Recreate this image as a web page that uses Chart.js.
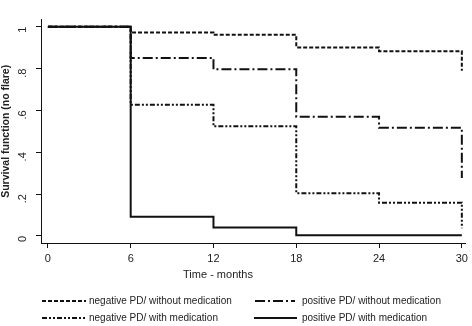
<!DOCTYPE html>
<html><head><meta charset="utf-8">
<script src="https://cdn.jsdelivr.net/npm/chart.js@4"></script>
<style>html,body{margin:0;padding:0;background:#fff}</style>
</head><body>
<canvas id="c" width="472" height="326" style="width:472px;height:326px;display:block"></canvas>
<script>
// ---- data ----
const months = [0, 6, 12, 18, 24, 30];
const negWithout = [1, 0.972, 0.961, 0.901, 0.883, 0.79];
const posWithout = [1, 0.851, 0.797, 0.569, 0.517, 0.277];
const negWith = [1, 0.627, 0.524, 0.204, 0.159, 0.037];
const posWith = [1, 0.092, 0.04, 0.003, 0.003, 0.003];
const seriesNames = [
  'negative PD/ without medication',
  'positive PD/ without medication',
  'negative PD/ with medication',
  'positive PD/ with medication'
];
const xTickValues = [0, 6, 12, 18, 24, 30];
const yTickValues = [0, 0.2, 0.4, 0.6, 0.8, 1];
const yTickLabels = ['0', '.2', '.4', '.6', '.8', '1'];
const xTitle = 'Time - months';
const yTitle = 'Survival function (no flare)';

// ---- styles ----
const FONT = '"Liberation Sans", Arial, sans-serif';
const dashes = [[4, 2], [10, 3, 2, 3], [5, 2, 2, 2, 2, 2], []];
const seriesValues = [negWithout, posWithout, negWith, posWith];

const pts = vals => months.map((m, i) => ({ x: m, y: vals[i] }));

const datasets = seriesValues.map((v, i) => ({
  label: seriesNames[i],
  data: pts(v),
  stepped: 'before',
  borderColor: '#111',
  borderWidth: 2,
  borderDash: dashes[i],
  pointRadius: 0,
  fill: false
})).reverse();

const legendPlugin = {
  id: 'customLegend',
  afterDraw(chart) {
    const ctx = chart.ctx;
    ctx.save();
    ctx.fillStyle = '#222';
    ctx.font = '11px ' + FONT;
    ctx.textAlign = 'center';
    ctx.textBaseline = 'middle';
    ctx.fillText(xTitle, 218, 275);
    const layout = [
      { x1: 42, x2: 86, tx: 89, y: 301 },
      { x1: 255, x2: 295, tx: 302, y: 301 },
      { x1: 42, x2: 86, tx: 89, y: 318 },
      { x1: 254, x2: 297, tx: 302, y: 318 }
    ];
    ctx.font = '10px ' + FONT;
    ctx.textAlign = 'left';
    layout.forEach((L, i) => {
      ctx.strokeStyle = '#111';
      ctx.lineWidth = 2;
      ctx.setLineDash(dashes[i]);
      ctx.beginPath();
      ctx.moveTo(L.x1, L.y);
      ctx.lineTo(L.x2, L.y);
      ctx.stroke();
      ctx.setLineDash([]);
      ctx.fillText(seriesNames[i], L.tx, L.y);
    });
    ctx.restore();
  }
};

new Chart(document.getElementById('c'), {
  type: 'line',
  data: { datasets },
  plugins: [legendPlugin],
  options: {
    responsive: false,
    animation: false,
    layout: { padding: { left: 0, right: 5, top: 3, bottom: 0 } },
    plugins: { legend: { display: false }, tooltip: { enabled: false } },
    scales: {
      x: {
        type: 'linear',
        min: -0.5,
        max: 30.3,
        afterBuildTicks: s => { s.ticks = xTickValues.map(v => ({ value: v })); },
        afterFit: s => { s.height = 83; },
        grid: { display: true, drawOnChartArea: false, drawTicks: true, tickLength: 5, color: '#111' },
        border: { display: true, color: '#111', width: 1 },
        ticks: { color: '#222', font: { family: FONT, size: 11 }, padding: 4, maxRotation: 0, minRotation: 0 }
      },
      y: {
        type: 'linear',
        min: -0.034,
        max: 1.034,
        afterBuildTicks: s => { s.ticks = yTickValues.map(v => ({ value: v })); },
        afterFit: s => { s.width = 41; },
        grid: { display: true, drawOnChartArea: false, drawTicks: true, tickLength: 5, color: '#111' },
        border: { display: true, color: '#111', width: 1 },
        ticks: {
          color: '#222',
          font: { family: FONT, size: 11 },
          padding: 13,
          minRotation: 90,
          maxRotation: 90,
          callback: v => { const i = yTickValues.findIndex(t => Math.abs(t - v) < 1e-9); return i >= 0 ? yTickLabels[i] : ''; }
        },
        title: { display: true, text: yTitle, color: '#222', font: { family: FONT, size: 10.5, weight: 'bold' }, padding: { top: 0, bottom: 0 } }
      }
    }
  }
});
</script>
</body></html>
